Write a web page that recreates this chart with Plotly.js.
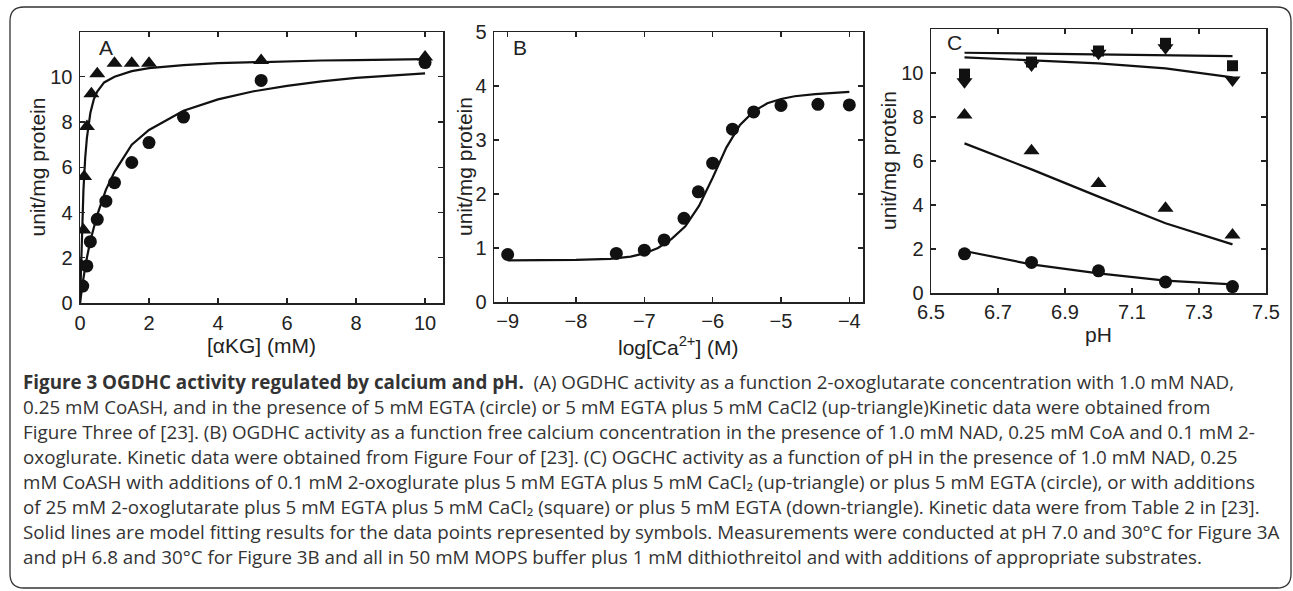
<!DOCTYPE html>
<html>
<head>
<meta charset="utf-8">
<script src="https://cdn.plot.ly/plotly-3.0.1.min.js"></script>
<style>html,body{margin:0;padding:0;background:#fff;} #chart{width:1293px;height:591px;}</style>
</head>
<body>
<div id="chart"></div>
<script>
// ---- Panel A: activity vs [alphaKG] ----
const aTriX = [0.03, 0.1, 0.12, 0.2, 0.33, 0.5, 1, 1.5, 2, 5.25, 10];
const aTriY = [1.68, 3.23, 5.59, 7.8, 9.25, 10.13, 10.6, 10.6, 10.6, 10.72, 10.87];
const aCirX = [0.08, 0.2, 0.3, 0.5, 0.75, 1, 1.5, 2, 3, 5.25, 10];
const aCirY = [0.75, 1.64, 2.71, 3.7, 4.5, 5.32, 6.21, 7.09, 8.22, 9.84, 10.63];
const aFitTriX = [0, 0.03, 0.06, 0.1, 0.15, 0.2, 0.3, 0.4, 0.5, 0.7, 1, 1.5, 2, 3, 4, 5, 6, 7, 8, 9, 10];
const aFitTriY = [0, 1.9, 3.5, 5.0, 6.4, 7.3, 8.4, 9.0, 9.35, 9.75, 10.0, 10.25, 10.38, 10.52, 10.6, 10.65, 10.69, 10.72, 10.74, 10.76, 10.78];
const aFitCirX = [0, 0.05, 0.1, 0.2, 0.3, 0.5, 0.75, 1, 1.5, 2, 3, 4, 5, 6, 7, 8, 9, 10];
const aFitCirY = [0, 0.6, 1.1, 2.0, 2.75, 3.9, 5.0, 5.8, 7.0, 7.65, 8.5, 9.0, 9.35, 9.6, 9.8, 9.95, 10.05, 10.15];

// ---- Panel B: activity vs log[Ca2+] ----
const bX = [-9.0, -7.41, -7.0, -6.71, -6.42, -6.21, -6.0, -5.71, -5.4, -5.0, -4.46, -4.0];
const bY = [0.88, 0.9, 0.96, 1.15, 1.55, 2.04, 2.57, 3.2, 3.52, 3.64, 3.66, 3.65];
const bFitX = [-9, -8.5, -8, -7.5, -7.2, -7, -6.8, -6.6, -6.4, -6.2, -6, -5.8, -5.6, -5.4, -5.2, -5, -4.8, -4.5, -4.2, -4];
const bFitY = [0.77, 0.77, 0.78, 0.8, 0.84, 0.9, 1.0, 1.17, 1.4, 1.78, 2.3, 2.86, 3.28, 3.53, 3.68, 3.76, 3.81, 3.85, 3.88, 3.89];

// ---- Panel C: activity vs pH ----
const pH = [6.6, 6.8, 7.0, 7.2, 7.4];
const cCirY = [1.78, 1.39, 1.01, 0.5, 0.29];
const cCirFit = [1.91, 1.3, 0.89, 0.56, 0.39];
const cUpY = [8.09, 6.47, 4.98, 3.85, 2.64];
const cUpFit = [6.8, 5.62, 4.38, 3.17, 2.21];
const cSqY = [9.95, 10.5, 11.0, 11.35, 10.33];
const cSqFit = [10.92, 10.89, 10.86, 10.82, 10.77];
const cDnY = [9.6, 10.36, 10.9, 11.15, 9.68];
const cDnFit = [10.71, 10.59, 10.44, 10.21, 9.8];

const xTicksA = [0, 2, 4, 6, 8, 10];
const yTicksA = [0, 2, 4, 6, 8, 10];
const xTicksB = [-9, -8, -7, -6, -5, -4];
const yTicksB = [0, 1, 2, 3, 4, 5];
const xTicksC = [6.5, 6.7, 6.9, 7.1, 7.3, 7.5];
const xTickTextC = ['6.5', '6.7', '6.9', '7.1', '7.3', '7.5'];
const yTicksC = [0, 2, 4, 6, 8, 10];

const axisTitles = {
  ax: '[αKG] (mM)',
  bx: 'log[Ca<sup>2+</sup>] (M)',
  cx: 'pH',
  y: 'unit/mg protein'
};

const captionLines = [
  '<b>Figure 3 OGDHC activity regulated by calcium and pH.</b>  (A) OGDHC activity as a function 2-oxoglutarate concentration with 1.0 mM NAD,',
  '0.25 mM CoASH, and in the presence of 5 mM EGTA (circle) or 5 mM EGTA plus 5 mM CaCl2 (up-triangle)Kinetic data were obtained from',
  'Figure Three of [23]. (B) OGDHC activity as a function free calcium concentration in the presence of 1.0 mM NAD, 0.25 mM CoA and 0.1 mM 2-',
  'oxoglurate. Kinetic data were obtained from Figure Four of [23]. (C) OGCHC activity as a function of pH in the presence of 1.0 mM NAD, 0.25',
  'mM CoASH with additions of 0.1 mM 2-oxoglurate plus 5 mM EGTA plus 5 mM CaCl₂ (up-triangle) or plus 5 mM EGTA (circle), or with additions',
  'of 25 mM 2-oxoglutarate plus 5 mM EGTA plus 5 mM CaCl₂ (square) or plus 5 mM EGTA (down-triangle). Kinetic data were from Table 2 in [23].',
  'Solid lines are model fitting results for the data points represented by symbols. Measurements were conducted at pH 7.0 and 30°C for Figure 3A',
  'and pH 6.8 and 30°C for Figure 3B and all in 50 mM MOPS buffer plus 1 mM dithiothreitol and with additions of appropriate substrates.'
];

const W = 1293, H = 591;
const px = v => v / W;
const py = v => 1 - v / H;
const K = '#111';
const LW = 2.2;

function line(x, y, xa, ya) {
  return {x: x, y: y, xaxis: xa, yaxis: ya, mode: 'lines', line: {color: K, width: LW}, showlegend: false, hoverinfo: 'skip'};
}
function pts(x, y, xa, ya, sym, size) {
  return {x: x, y: y, xaxis: xa, yaxis: ya, mode: 'markers', marker: {symbol: sym, size: size, color: K, line: {width: 0}}, showlegend: false};
}

const traces = [
  line(aFitTriX, aFitTriY, 'x', 'y'),
  line(aFitCirX, aFitCirY, 'x', 'y'),
  pts(aTriX, aTriY, 'x', 'y', 'triangle-up', 14),
  pts(aCirX, aCirY, 'x', 'y', 'circle', 13),
  line(bFitX, bFitY, 'x2', 'y2'),
  pts(bX, bY, 'x2', 'y2', 'circle', 13),
  line(pH, cSqFit, 'x3', 'y3'),
  line(pH, cDnFit, 'x3', 'y3'),
  line(pH, cUpFit, 'x3', 'y3'),
  line(pH, cCirFit, 'x3', 'y3'),
  pts(pH, cSqY, 'x3', 'y3', 'square', 11),
  pts(pH, cDnY, 'x3', 'y3', 'triangle-down', 14),
  pts(pH, cUpY, 'x3', 'y3', 'triangle-up', 14),
  pts(pH, cCirY, 'x3', 'y3', 'circle', 13)
];

const FAM = 'Liberation Sans, Arial, sans-serif';
const tickFont = {family: FAM, size: 20, color: '#222'};
const titleFont = {family: FAM, size: 21, color: '#222'};

function ax(domain, range, tickvals, extra) {
  return Object.assign({
    domain: domain, range: range, tickvals: tickvals, ticks: 'inside', ticklen: 5, tickwidth: 1.2,
    tickcolor: '#222', showline: true, linecolor: '#222', linewidth: 1.5, mirror: 'ticks',
    showgrid: false, zeroline: false, tickfont: tickFont, automargin: false, fixedrange: true
  }, extra || {});
}

const layout = {
  width: W, height: H,
  margin: {l: 0, r: 0, t: 0, b: 0},
  paper_bgcolor: '#fff', plot_bgcolor: '#fff',
  showlegend: false,
  xaxis: ax([px(80), px(443)], [0, 10.52], xTicksA, {anchor: 'y', ticklabelstandoff: 1}),
  yaxis: ax([py(303), py(32)], [0, 11.98], yTicksA, {anchor: 'x', ticklabelstandoff: 2}),
  xaxis2: ax([px(494), px(863)], [-9.2, -3.8], xTicksB, {anchor: 'y2', ticklabelstandoff: 0}),
  yaxis2: ax([py(302), py(32)], [0, 5], yTicksB, {anchor: 'x2', ticklabelstandoff: 2}),
  xaxis3: ax([px(931), px(1266)], [6.5, 7.5], xTicksC, {anchor: 'y3', ticktext: xTickTextC, ticklabelstandoff: 0}),
  yaxis3: ax([py(293), py(29)], [0, 12], yTicksC, {anchor: 'x3', ticklabelstandoff: 2}),
  shapes: [{
    type: 'path', xref: 'paper', yref: 'paper',
    path: (function () {
      const l = 10, r = 1291, t = 7, b = 588, rr = 14;
      const X = v => px(v), Y = v => py(v);
      return 'M ' + X(l + rr) + ',' + Y(t) + ' L ' + X(r - rr) + ',' + Y(t) +
        ' Q ' + X(r) + ',' + Y(t) + ' ' + X(r) + ',' + Y(t + rr) +
        ' L ' + X(r) + ',' + Y(b - rr) + ' Q ' + X(r) + ',' + Y(b) + ' ' + X(r - rr) + ',' + Y(b) +
        ' L ' + X(l + rr) + ',' + Y(b) + ' Q ' + X(l) + ',' + Y(b) + ' ' + X(l) + ',' + Y(b - rr) +
        ' L ' + X(l) + ',' + Y(t + rr) + ' Q ' + X(l) + ',' + Y(t) + ' ' + X(l + rr) + ',' + Y(t) + ' Z';
    })(),
    line: {color: '#333', width: 1.3}, fillcolor: 'rgba(0,0,0,0)', layer: 'below'
  }],
  annotations: []
};

function label(text, x, y, angle, font) {
  layout.annotations.push({
    text: text, xref: 'paper', yref: 'paper', x: px(x), y: py(y), xanchor: 'center', yanchor: 'middle',
    textangle: angle, showarrow: false, font: font
  });
}
label(axisTitles.ax, 261.5, 345, 0, titleFont);
label(axisTitles.bx, 679, 346, 0, titleFont);
label(axisTitles.cx, 1098, 334, 0, titleFont);
label(axisTitles.y, 37, 167.5, -90, titleFont);
label(axisTitles.y, 464, 167, -90, titleFont);
label(axisTitles.y, 889, 161, -90, titleFont);

const letters = [['A', 106, 47], ['B', 520, 47], ['C', 954, 43]];
letters.forEach(l => label(l[0], l[1], l[2], 0, titleFont));

captionLines.forEach((t, i) => layout.annotations.push({
  text: t, xref: 'paper', yref: 'paper', x: px(21), y: py(382 + i * 25), xanchor: 'left', yanchor: 'middle',
  align: 'left', showarrow: false, font: {family: 'Open Sans, sans-serif', size: 18.8, color: '#333'}
}));

Plotly.newPlot('chart', traces, layout, {staticPlot: true, displayModeBar: false});
</script>
</body>
</html>
